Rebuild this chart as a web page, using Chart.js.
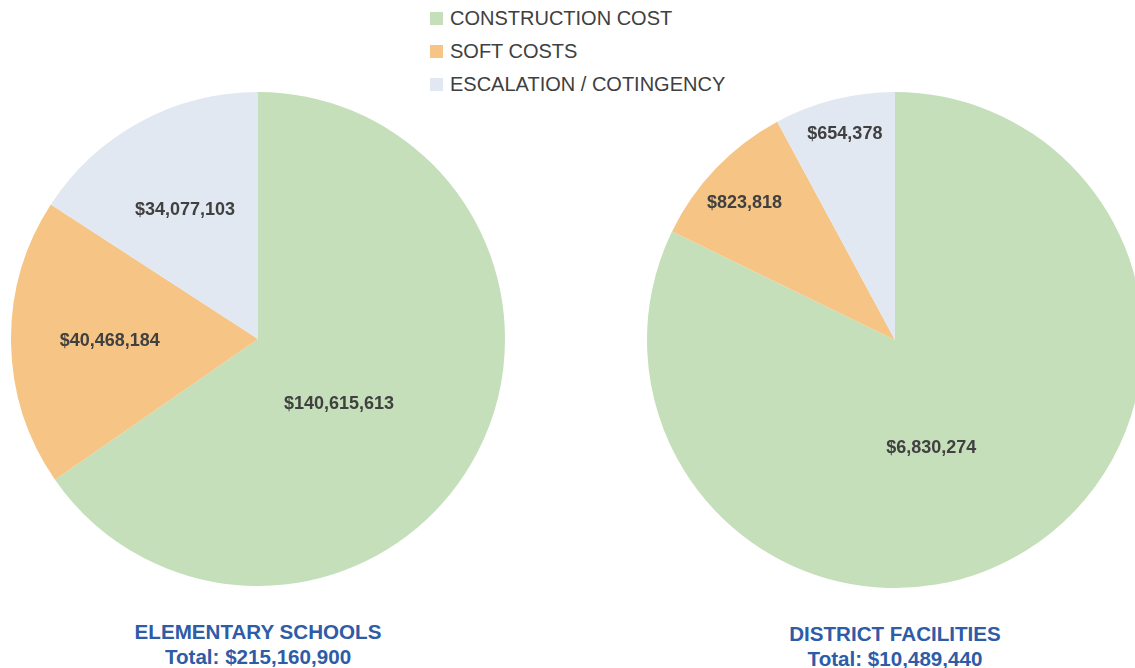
<!DOCTYPE html>
<html>
<head>
<meta charset="utf-8">
<script src="https://cdn.jsdelivr.net/npm/chart.js@4/dist/chart.umd.min.js"></script>
<style>
  body { margin: 0; width: 1135px; height: 668px; overflow: hidden; position: relative; background: #fff;
         font-family: "Liberation Sans", Arial, sans-serif; }
  canvas { position: absolute; }
  #chartSchools { left: 11px; top: 92px; }
  #chartDistrict { left: 647px; top: 92px; }
  #legend { position: absolute; left: 430px; top: 2px; }
  #legend .item { position: relative; height: 33px; line-height: 33px; padding-left: 20px;
                  font-size: 20px; color: #404040; white-space: nowrap; }
  #legend .box { position: absolute; left: 0; top: 10px; width: 13px; height: 13px; }
  .title { position: absolute; width: 400px; text-align: center; font-size: 20.6px; font-weight: bold;
           line-height: 25px; color: #2E5CA6; }
</style>
</head>
<body>
<div id="legend"></div>
<canvas id="chartSchools" width="494" height="494"></canvas>
<canvas id="chartDistrict" width="496" height="496"></canvas>
<div class="title" id="titleSchools" style="left:58px; top:619px;"></div>
<div class="title" id="titleDistrict" style="left:695px; top:621px;"></div>

<script>
  // cost categories and colours
  var categories = ['CONSTRUCTION COST', 'SOFT COSTS', 'ESCALATION / COTINGENCY'];
  var colors = ['#C5DFBA', '#F6C585', '#E1E8F2'];

  // values per project group
  var schoolsValues = [140615613, 40468184, 34077103];
  var districtValues = [6830274, 823818, 654378];

  var schoolsTitle = ['ELEMENTARY SCHOOLS', 'Total: $215,160,900'];
  var districtTitle = ['DISTRICT FACILITIES', 'Total: $10,489,440'];

  function money(v) {
    return '$' + v.toLocaleString('en-US');
  }

  // draws the value inside each slice; place = [radius fraction, angle shift in degrees]
  var sliceLabels = {
    id: 'sliceLabels',
    afterDatasetsDraw: function(chart, args, opts) {
      var ctx = chart.ctx;
      var meta = chart.getDatasetMeta(0);
      var data = chart.data.datasets[0].data;
      ctx.save();
      ctx.font = 'bold 18px "Liberation Sans", Arial, sans-serif';
      ctx.fillStyle = '#404040';
      ctx.textAlign = 'center';
      ctx.textBaseline = 'middle';
      meta.data.forEach(function(arc, i) {
        var p = arc.getProps(['x', 'y', 'startAngle', 'endAngle', 'outerRadius'], true);
        var place = opts.place[i];
        var mid = (p.startAngle + p.endAngle) / 2 + place[1] * Math.PI / 180;
        var r = p.outerRadius * place[0];
        ctx.fillText(money(data[i]), p.x + r * Math.cos(mid), p.y + r * Math.sin(mid));
      });
      ctx.restore();
    }
  };

  function makePie(id, values, place) {
    return new Chart(document.getElementById(id), {
      type: 'pie',
      data: {
        labels: categories,
        datasets: [{
          data: values,
          backgroundColor: colors,
          borderWidth: 0
        }]
      },
      options: {
        responsive: false,
        animation: false,
        layout: { padding: 0 },
        plugins: {
          legend: { display: false },
          tooltip: { enabled: false },
          sliceLabels: { place: place }
        }
      },
      plugins: [sliceLabels]
    });
  }

  makePie('chartSchools', schoolsValues, [[0.42, 11], [0.60, 0], [0.60, -1]]);
  makePie('chartDistrict', districtValues, [[0.46, 13.5], [0.82, -1.5], [0.855, 0.5]]);

  // shared legend
  var legend = document.getElementById('legend');
  categories.forEach(function(c, i) {
    var item = document.createElement('div');
    item.className = 'item';
    var box = document.createElement('span');
    box.className = 'box';
    box.style.background = colors[i];
    item.appendChild(box);
    item.appendChild(document.createTextNode(c));
    legend.appendChild(item);
  });

  document.getElementById('titleSchools').innerHTML = schoolsTitle.join('<br>');
  document.getElementById('titleDistrict').innerHTML = districtTitle.join('<br>');
</script>
</body>
</html>
